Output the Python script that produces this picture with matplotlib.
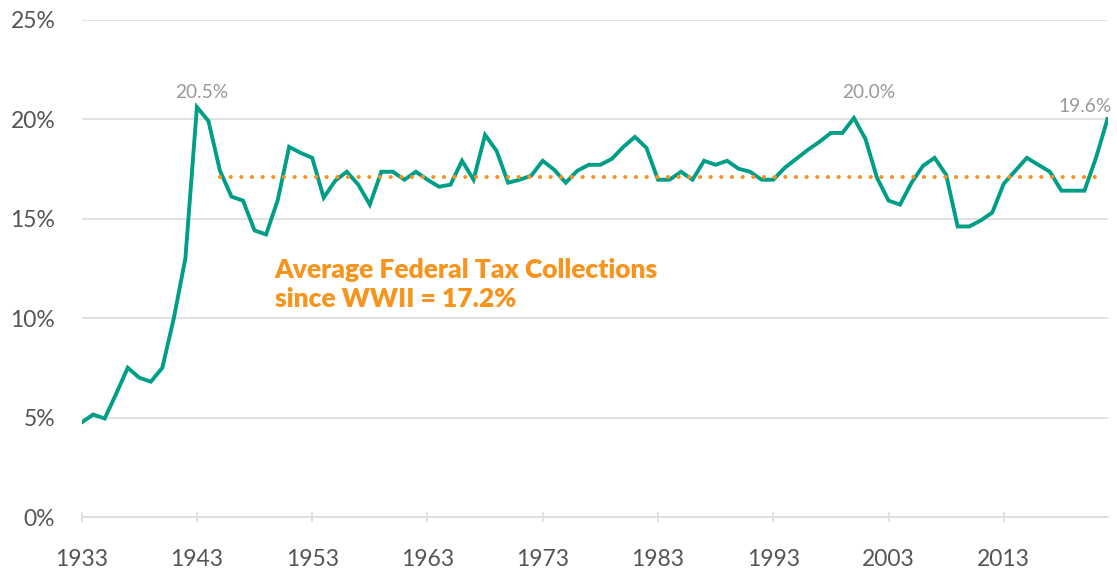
import numpy as np
import matplotlib
matplotlib.use("Agg")
import matplotlib.pyplot as plt

plt.rcParams['font.family'] = ['Lato', 'DejaVu Sans']

# dados (receita federal, % do PIB)
anos = list(range(1933, 2023))
receita = [
    4.75, 5.15, 4.95, 6.2, 7.5, 7.0, 6.8, 7.5, 10.0, 13.0,
    20.6, 19.9, 17.4, 16.1, 15.9, 14.4, 14.2, 15.9, 18.6, 18.3,
    18.05, 16.05, 16.9, 17.35, 16.7, 15.7, 17.35, 17.35, 16.95, 17.35,
    16.95, 16.6, 16.7, 17.9, 16.95, 19.2, 18.4, 16.8, 16.95, 17.15,
    17.9, 17.45, 16.8, 17.4, 17.7, 17.7, 18.0, 18.6, 19.1, 18.55,
    16.95, 16.95, 17.35, 16.95, 17.9, 17.7, 17.9, 17.5, 17.35, 16.95,
    16.95, 17.55, 18.0, 18.45, 18.85, 19.3, 19.3, 20.05, 19.0, 17.05,
    15.9, 15.7, 16.8, 17.65, 18.05, 17.2, 14.6, 14.6, 14.9, 15.3,
    16.75, 17.4, 18.05, 17.7, 17.35, 16.4, 16.4, 16.4, 18.05, 20.0,
]
media_anos = [1945, 2021]
media_valor = 17.1
rotulos_pico = ['20.5%', '20.0%', '19.6%']
anos_ticks = list(range(1933, 2014, 10))
y_ticks = [0, 5, 10, 15, 20, 25]

VERDE = '#009e86'
LARANJA = '#f7941d'
CINZA_GRADE = '#dcdcdc'

fig = plt.figure(figsize=(11.17, 5.76), dpi=100)
ax = fig.add_axes([0.0731, 0.1024, 0.9184, 0.8637])

ax.plot(anos, receita, color=VERDE, lw=2.8, solid_joinstyle='miter', zorder=3)
ax.plot(media_anos, [media_valor, media_valor], color=LARANJA, lw=3.0,
        linestyle=(0, (0.01, 2.55)), dash_capstyle='round', zorder=4)

# rótulos dos picos (posições ajustadas à mão)
pos_rotulos = [(1943.41, 21.08, 'center'), (2001.28, 21.08, 'center'), (2022.33, 20.33, 'right')]
for txt, (x, y, ha) in zip(rotulos_pico, pos_rotulos):
    ax.text(x, y, txt, ha=ha, va='baseline', color='#999999', fontsize=13.8, clip_on=False)

ax.text(1949.75, 11.7, 'Average Federal Tax Collections\nsince WWII = 17.2%',
        color=LARANJA, fontsize=19, fontweight='heavy', ha='left', va='center',
        linespacing=1.25)

ax.set_xlim(1933, 2022)
ax.set_ylim(0, 25)
ax.set_yticks(y_ticks)
ax.set_yticklabels([f'{v}%' for v in y_ticks])
ax.set_xticks(anos_ticks)
ax.set_xticklabels([str(a) for a in anos_ticks])

ax.grid(axis='y', color=CINZA_GRADE, lw=1.2)
ax.set_axisbelow(True)
for s in ['top', 'right', 'left']:
    ax.spines[s].set_visible(False)
ax.spines['bottom'].set_color(CINZA_GRADE)
ax.spines['bottom'].set_linewidth(1.2)

ax.tick_params(axis='y', length=0, pad=19, labelsize=16.5, labelcolor='#555555')
ax.tick_params(axis='x', direction='inout', length=7.5, width=1.2, color=CINZA_GRADE,
               pad=19, labelsize=16.5, labelcolor='#555555')

fig.savefig('out.png', dpi=100)
